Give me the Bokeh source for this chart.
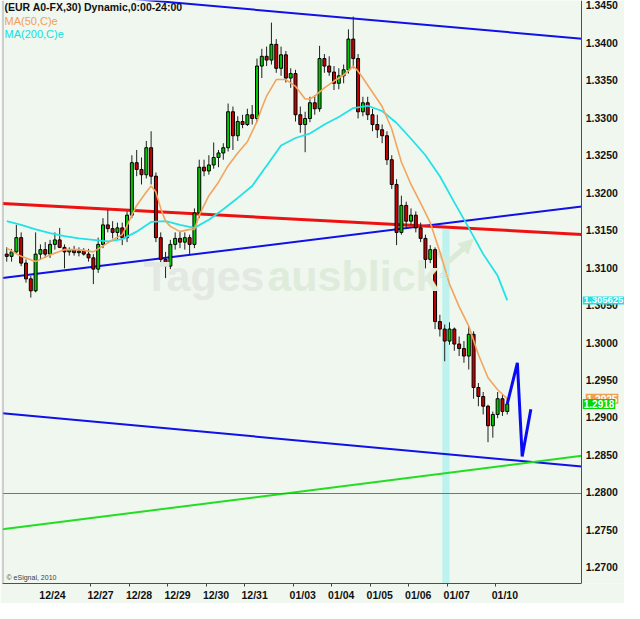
from bokeh.plotting import figure
from bokeh.models import (Range1d, FixedTicker, PrintfTickFormatter, Label, Span,
                          ColumnDataSource, Arrow, NormalHead)
from bokeh.embed import file_html
from bokeh.resources import INLINE

# ---------------- data (EUR/USD, 30-min bars shown compressed) ----------------
opens = [1.3118, 1.3115, 1.3121, 1.3140, 1.3106, 1.3085, 1.3069, 1.3118, 1.3124, 1.3118,
         1.3131, 1.3137, 1.3127, 1.3121, 1.3124, 1.3120, 1.3122, 1.3118, 1.3113, 1.3098,
         1.3131, 1.3157, 1.3152, 1.3147, 1.3153, 1.3140, 1.3170, 1.3240, 1.3231, 1.3224,
         1.3260, 1.3222, 1.3140, 1.3111, 1.3102, 1.3131, 1.3139, 1.3134, 1.3140, 1.3131,
         1.3173, 1.3234, 1.3229, 1.3237, 1.3247, 1.3253, 1.3260, 1.3308, 1.3276, 1.3295,
         1.3291, 1.3304, 1.3299, 1.3369, 1.3382, 1.3377, 1.3398, 1.3366, 1.3384, 1.3353,
         1.3359, 1.3304, 1.3291, 1.3299, 1.3320, 1.3312, 1.3379, 1.3369, 1.3361, 1.3346,
         1.3356, 1.3364, 1.3405, 1.3379, 1.3308, 1.3320, 1.3304, 1.3291, 1.3284, 1.3276,
         1.3244, 1.3211, 1.3147, 1.3183, 1.3162, 1.3170, 1.3153, 1.3139, 1.3111, 1.3124,
         1.3028, 1.3018, 1.3002, 1.3018, 1.2998, 1.2992, 1.2982, 1.3011, 1.2940, 1.2928,
         1.2915, 1.2889, 1.2904, 1.2925, 1.2908]
highs = [1.3127, 1.3125, 1.3157, 1.3147, 1.3111, 1.3089, 1.3147, 1.3131, 1.3134, 1.3137,
         1.3147, 1.3153, 1.3131, 1.3127, 1.3129, 1.3127, 1.3126, 1.3125, 1.3118, 1.3140,
         1.3166, 1.3177, 1.3162, 1.3160, 1.3160, 1.3175, 1.3250, 1.3257, 1.3247, 1.3269,
         1.3282, 1.3227, 1.3147, 1.3121, 1.3137, 1.3147, 1.3149, 1.3147, 1.3144, 1.3179,
         1.3244, 1.3244, 1.3250, 1.3267, 1.3257, 1.3266, 1.3319, 1.3315, 1.3302, 1.3304,
         1.3312, 1.3317, 1.3379, 1.3392, 1.3395, 1.3427, 1.3405, 1.3395, 1.3389, 1.3366,
         1.3364, 1.3315, 1.3308, 1.3328, 1.3330, 1.3396, 1.3385, 1.3382, 1.3369, 1.3366,
         1.3371, 1.3418, 1.3435, 1.3385, 1.3328, 1.3328, 1.3312, 1.3304, 1.3291, 1.3282,
         1.3250, 1.3218, 1.3196, 1.3188, 1.3179, 1.3175, 1.3160, 1.3144, 1.3130, 1.3127,
         1.3037, 1.3024, 1.3027, 1.3020, 1.3008, 1.3002, 1.3022, 1.3015, 1.2946, 1.2934,
         1.2917, 1.2908, 1.2934, 1.2930, 1.2925]
lows = [1.3108, 1.3108, 1.3118, 1.3102, 1.3080, 1.3060, 1.3067, 1.3111, 1.3113, 1.3113,
        1.3124, 1.3126, 1.3099, 1.3116, 1.3116, 1.3115, 1.3116, 1.3108, 1.3078, 1.3093,
        1.3126, 1.3147, 1.3139, 1.3137, 1.3130, 1.3134, 1.3166, 1.3222, 1.3211, 1.3219,
        1.3211, 1.3134, 1.3102, 1.3086, 1.3098, 1.3124, 1.3126, 1.3124, 1.3117, 1.3126,
        1.3166, 1.3222, 1.3224, 1.3232, 1.3234, 1.3244, 1.3255, 1.3257, 1.3269, 1.3286,
        1.3289, 1.3291, 1.3294, 1.3353, 1.3369, 1.3371, 1.3360, 1.3356, 1.3347, 1.3340,
        1.3295, 1.3280, 1.3254, 1.3294, 1.3304, 1.3308, 1.3360, 1.3356, 1.3337, 1.3338,
        1.3346, 1.3359, 1.3366, 1.3299, 1.3302, 1.3297, 1.3282, 1.3273, 1.3266, 1.3237,
        1.3205, 1.3130, 1.3144, 1.3152, 1.3157, 1.3147, 1.3134, 1.3099, 1.3106, 1.3018,
        1.3008, 1.2975, 1.2997, 1.2989, 1.2982, 1.2973, 1.2964, 1.2925, 1.2915, 1.2904,
        1.2867, 1.2873, 1.2899, 1.2902, 1.2904]
closes = [1.3115, 1.3121, 1.3140, 1.3106, 1.3085, 1.3069, 1.3118, 1.3124, 1.3118, 1.3131,
          1.3137, 1.3127, 1.3121, 1.3124, 1.3120, 1.3122, 1.3118, 1.3113, 1.3098, 1.3131,
          1.3157, 1.3152, 1.3147, 1.3153, 1.3140, 1.3170, 1.3240, 1.3231, 1.3224, 1.3260,
          1.3222, 1.3140, 1.3111, 1.3102, 1.3131, 1.3139, 1.3134, 1.3140, 1.3131, 1.3173,
          1.3234, 1.3229, 1.3237, 1.3247, 1.3253, 1.3260, 1.3308, 1.3276, 1.3295, 1.3291,
          1.3304, 1.3299, 1.3369, 1.3382, 1.3377, 1.3398, 1.3366, 1.3384, 1.3353, 1.3359,
          1.3304, 1.3291, 1.3299, 1.3320, 1.3312, 1.3379, 1.3369, 1.3361, 1.3346, 1.3356,
          1.3364, 1.3405, 1.3379, 1.3308, 1.3320, 1.3304, 1.3291, 1.3284, 1.3276, 1.3244,
          1.3211, 1.3147, 1.3183, 1.3162, 1.3170, 1.3153, 1.3139, 1.3111, 1.3124, 1.3028,
          1.3018, 1.3002, 1.3018, 1.2998, 1.2992, 1.2982, 1.3011, 1.2940, 1.2928, 1.2915,
          1.2889, 1.2904, 1.2925, 1.2908, 1.2918]

ma50_bar = [0, 3, 6, 9, 12, 15, 18, 20, 22, 24, 25, 26, 27, 28, 29, 30, 31, 32, 33, 34,
            36, 38, 39, 40, 42, 44, 46, 48, 50, 52, 53, 54, 56, 58, 60, 62, 63, 64, 66, 68,
            70, 72, 73, 74, 76, 78, 80, 82, 84, 86, 88, 90, 92, 94, 96, 98, 100, 102, 104]
ma50 = [1.3126, 1.3115, 1.3108, 1.3117, 1.3124, 1.3124, 1.3121, 1.3129, 1.3137, 1.3144,
        1.3156, 1.3170, 1.3183, 1.3192, 1.3201, 1.3209, 1.3201, 1.3179, 1.3162, 1.3155,
        1.3148, 1.3151, 1.3151, 1.3170, 1.3196, 1.3214, 1.3236, 1.3253, 1.3268, 1.3295,
        1.3313, 1.3329, 1.3351, 1.3351, 1.3342, 1.3325, 1.3325, 1.3329, 1.3340, 1.3349,
        1.3357, 1.3369, 1.3362, 1.3353, 1.3334, 1.3315, 1.3285, 1.3241, 1.3211, 1.3186,
        1.3160, 1.3121, 1.3078, 1.3048, 1.3022, 1.2984, 1.2953, 1.2937, 1.2925]

ma200_bar = [0, 3, 6, 9, 12, 15, 18, 21, 24, 27, 30, 33, 36, 39, 42, 45, 48, 51, 54, 57,
             60, 63, 66, 69, 72, 75, 78, 81, 84, 87, 90, 93, 96, 99, 102, 104]
ma200 = [1.3162, 1.3157, 1.3151, 1.3146, 1.3142, 1.3139, 1.3137, 1.3135, 1.3138, 1.3148,
         1.3161, 1.3162, 1.3157, 1.3153, 1.3164, 1.3178, 1.3193, 1.3209, 1.3236, 1.3263,
         1.3273, 1.3279, 1.3291, 1.3301, 1.3313, 1.3316, 1.3309, 1.3293, 1.3272, 1.3250,
         1.3222, 1.3187, 1.3153, 1.3118, 1.3089, 1.305625]

# drawn trend lines: (bar, price) end points
line_top_blue = ([-0.38, 119.98], [1.34740, 1.34055])
line_mid_blue = ([-0.38, 119.98], [1.30862, 1.31817])
line_red = ([-0.38, 119.98], [1.31855, 1.31443])
line_low_blue = ([-0.38, 119.98], [1.29055, 1.28346])
line_green = ([-0.38, 119.98], [1.27507, 1.28488])
level_brown = 1.27985

# projected path after last bar
fc_bar = [104.5, 106.6, 107.6, 109.4]
fc_price = [1.2918, 1.2973, 1.2848, 1.2911]

# highlighted period (bar span) and its top price
band_bars = (91.0, 92.5)
band_top = 1.3151

day_labels = ["12/24", "12/27", "12/28", "12/29", "12/30", "12/31",
              "01/03", "01/04", "01/05", "01/06", "01/07", "01/10"]
day_starts = [8, 18, 26, 34, 42, 50, 60, 68, 76, 84, 92, 102]
y_ticks = [1.270, 1.275, 1.280, 1.285, 1.290, 1.295, 1.300, 1.305,
           1.310, 1.315, 1.320, 1.325, 1.330, 1.335, 1.340, 1.345]

last_close = 1.2918
last_ma50 = 1.2925
last_ma200 = 1.305625

# ---------------- figure ----------------
BG = "#EFF7EF"
FONT = "Liberation Sans"
X0, XD, X1 = -0.38, 119.98, 128.86      # left edge, price-axis position, right edge
Y0, Y1 = 1.26784, 1.34565

p = figure(width=624, height=603, x_range=Range1d(X0, X1), y_range=Range1d(Y0, Y1),
           y_axis_location="right", output_backend="svg", toolbar_location=None,
           background_fill_color=BG, border_fill_color=BG,
           min_border_left=2, min_border_right=0, min_border_top=0, min_border_bottom=16)
p.grid.visible = False
p.outline_line_color = None

# highlighted band
p.quad(left=[band_bars[0]], right=[band_bars[1]], bottom=[Y0], top=[band_top],
       fill_color="#BDF2EE", line_color=None)

# watermark
wm_y = 1.30888
p.add_layout(Label(x=28.9, y=wm_y, text="Tages", text_font=FONT, text_font_size="43px",
                   text_font_style="bold", text_color="#E3E8E3", text_baseline="alphabetic"))
p.add_layout(Label(x=28.9, y=wm_y, x_offset=124, text="ausblick", text_font=FONT,
                   text_font_size="43px", text_font_style="bold", text_color="#DFECDB",
                   text_baseline="alphabetic"))
p.add_layout(Label(x=89.9, y=1.3090, text=".de", text_font=FONT, text_font_size="9px",
                   text_color="#D8E0D8", text_baseline="alphabetic"))
p.line(x=[90.1, 91.9, 96.4], y=[1.3121, 1.3106, 1.3131], line_color="#D9EBD6", line_width=5)
p.add_layout(Arrow(x_start=95.0, y_start=1.3123, x_end=97.4, y_end=1.3138,
                   line_color="#D9EBD6", line_width=5,
                   end=NormalHead(size=14, fill_color="#D9EBD6", line_color="#D9EBD6")))

# trend lines
p.line(x=line_top_blue[0], y=line_top_blue[1], line_color="#1010E8", line_width=2)
p.line(x=line_mid_blue[0], y=line_mid_blue[1], line_color="#1010E8", line_width=2)
p.line(x=line_low_blue[0], y=line_low_blue[1], line_color="#1010E8", line_width=2)
p.line(x=line_green[0], y=line_green[1], line_color="#22DD22", line_width=2)
p.line(x=line_red[0], y=line_red[1], line_color="#EE1111", line_width=3)
p.line(x=[X0, XD], y=[level_brown, level_brown], line_color="#D8502E", line_width=1.2)

# candles
xc = [b + 0.5 for b in range(len(closes))]
src = ColumnDataSource(dict(
    x=xc, high=highs, low=lows,
    top=[max(o, c) for o, c in zip(opens, closes)],
    bottom=[min(o, c) for o, c in zip(opens, closes)],
    color=["#00C800" if c >= o else "#C80000" for o, c in zip(opens, closes)]))
p.segment(x0="x", y0="high", x1="x", y1="low", source=src, line_color="#202020", line_width=1)
p.vbar(x="x", width=0.62, top="top", bottom="bottom", fill_color="color",
       line_color="#000000", line_width=1, source=src)

# moving averages
p.line(x=[b + 0.5 for b in ma200_bar], y=ma200, line_color="#22E2E6", line_width=1.8)
p.line(x=[b + 0.5 for b in ma50_bar], y=ma50, line_color="#F4A45C", line_width=1.6)

# projection
p.line(x=fc_bar, y=fc_price, line_color="#0A0AF5", line_width=3)

# left border
p.add_layout(Span(location=X0, dimension="height", line_color="#A8A8A8", line_width=2))

# legend texts
p.add_layout(Label(x=X0, y=1.34475, x_offset=2, text="(EUR A0-FX,30) Dynamic,0:00-24:00",
                   text_font=FONT, text_font_size="10.5px", text_font_style="bold",
                   text_color="#111111", text_baseline="middle"))
p.add_layout(Label(x=X0, y=1.34294, x_offset=2, text="MA(50,C)e", text_font=FONT,
                   text_font_size="11px", text_color="#F0A058", text_baseline="middle"))
p.add_layout(Label(x=X0, y=1.34113, x_offset=2, text="MA(200,C)e", text_font=FONT,
                   text_font_size="11px", text_color="#10E0E0", text_baseline="middle"))
p.add_layout(Label(x=X0, y=1.26862, x_offset=4, text="\u00a9 eSignal, 2010", text_font=FONT,
                   text_font_size="7px", text_color="#404040", text_baseline="middle"))

# axes
p.xaxis.bounds = (X0, XD)
p.xaxis.ticker = FixedTicker(ticks=[d + 2 for d in day_starts], minor_ticks=day_starts[1:])
p.xaxis.major_label_overrides = {d + 2: lab for d, lab in zip(day_starts, day_labels)}
p.xaxis.major_tick_out = 0
p.xaxis.major_tick_in = 0
p.xaxis.minor_tick_out = 3
p.xaxis.minor_tick_in = 0
p.xaxis.minor_tick_line_color = "#404040"
p.xaxis.axis_line_color = "#505050"
p.xaxis.major_label_standoff = 2
p.xaxis.major_label_text_font = FONT
p.xaxis.major_label_text_font_size = "10.5px"
p.xaxis.major_label_text_font_style = "bold"
p.xaxis.major_label_text_color = "#111111"

p.yaxis.fixed_location = XD
p.yaxis.ticker = FixedTicker(ticks=y_ticks)
p.yaxis.formatter = PrintfTickFormatter(format="%.4f")
p.yaxis.major_tick_out = 0
p.yaxis.major_tick_in = 0
p.yaxis.minor_tick_out = 0
p.yaxis.minor_tick_in = 0
p.yaxis.axis_line_color = "#505050"
p.yaxis.major_label_standoff = 4
p.yaxis.major_label_text_font = FONT
p.yaxis.major_label_text_font_size = "10.5px"
p.yaxis.major_label_text_font_style = "bold"
p.yaxis.major_label_text_color = "#111111"

# value flags on the price axis
for val, txt, col, off, size in [(last_ma200, "1.305625", "#22DEE6", 0, "9.5px"),
                                 (last_ma50, "1.2925", "#F0A050", 3, "10px"),
                                 (last_close, "1.2918", "#00D800", 0, "10px")]:
    p.add_layout(Label(x=XD, y=val, x_offset=1 + off, text=txt, text_font=FONT,
                       text_font_size=size, text_font_style="bold", text_color="white",
                       text_baseline="middle", background_fill_color=col, padding=1))

open("out.html", "w").write(file_html(p, INLINE))
